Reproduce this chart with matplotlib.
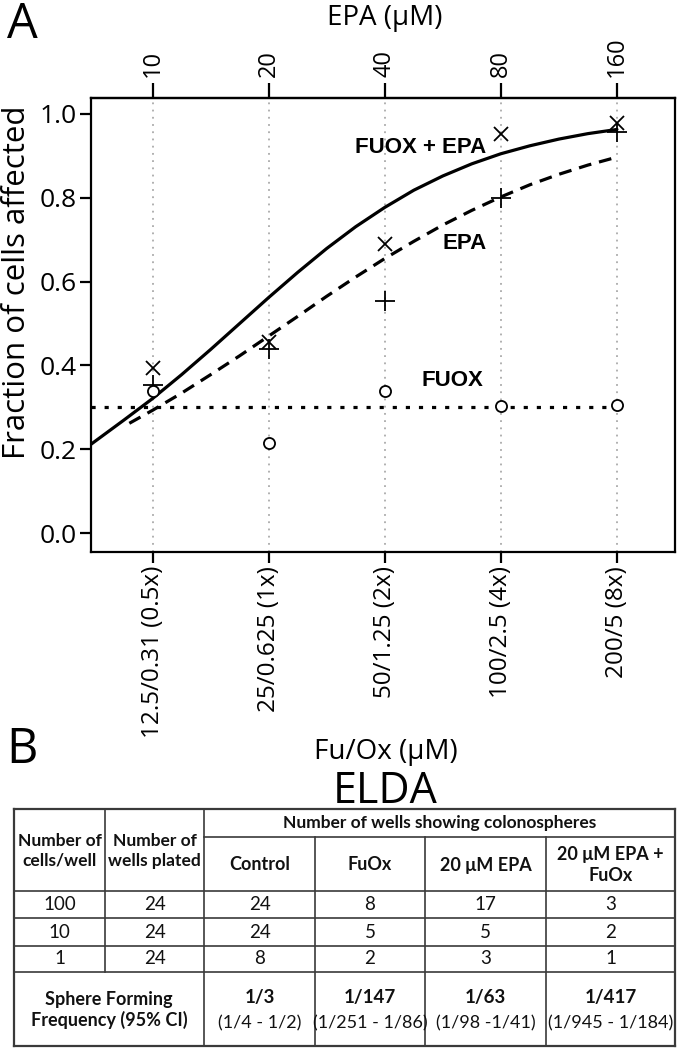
import matplotlib
matplotlib.use('Agg')
import matplotlib.pyplot as plt

# ---------------- data ----------------
epa_doses = ['10', '20', '40', '80', '160']
fuox_doses = ['12.5/0.31 (0.5x)', '25/0.625 (1x)', '50/1.25 (2x)', '100/2.5 (4x)', '200/5 (8x)']
dose_index = [0, 1, 2, 3, 4]

combo_points = [0.393, 0.456, 0.690, 0.952, 0.979]
epa_points = [0.353, 0.440, 0.553, 0.800, 0.957]
fuox_points = [0.340, 0.215, 0.340, 0.303, 0.305]
fuox_level = 0.30

combo_curve_x = [-0.53, -0.25, 0.0, 0.25, 0.5, 0.75, 1.0, 1.25, 1.5, 1.75, 2.0,
                 2.25, 2.5, 2.75, 3.0, 3.25, 3.5, 3.75, 4.0]
combo_curve_y = [0.212, 0.269, 0.321, 0.378, 0.438, 0.500, 0.562, 0.622, 0.679, 0.731, 0.777,
                 0.818, 0.852, 0.881, 0.905, 0.924, 0.940, 0.953, 0.963]
epa_curve_x = [-0.2, 0.0, 0.25, 0.5, 0.75, 1.0, 1.25, 1.5, 1.75, 2.0,
               2.25, 2.5, 2.75, 3.0, 3.25, 3.5, 3.75, 4.0]
epa_curve_y = [0.262, 0.293, 0.334, 0.378, 0.423, 0.470, 0.517, 0.565, 0.611, 0.655,
               0.696, 0.735, 0.770, 0.802, 0.831, 0.856, 0.878, 0.897]

# table data
cells_per_well = ['100', '10', '1']
wells_plated = ['24', '24', '24']
control_wells = ['24', '24', '8']
fuox_wells = ['8', '5', '2']
epa_wells = ['17', '5', '3']
combo_wells = ['3', '2', '1']
group_names = ['Control', 'FuOx', '20 μM EPA', '20 μM EPA +\nFuOx']
sff = ['1/3', '1/147', '1/63', '1/417']
sff_ci = ['(1/4 - 1/2)', '(1/251 - 1/86)', '(1/98 -1/41)', '(1/945 - 1/184)']

# ---------------- figure ----------------
W, H = 680, 1050
fig = plt.figure(figsize=(W / 100, H / 100), dpi=100)
FONT = ['Open Sans', 'DejaVu Sans']
TFONT = ['Lato', 'DejaVu Sans']

ax_l, ax_r, ax_t, ax_b = 91, 675, 98, 552
ax = fig.add_axes([ax_l / W, 1 - ax_b / H, (ax_r - ax_l) / W, (ax_b - ax_t) / H])
ax.set_xlim(-0.53, 4.5)
ax.set_ylim(-0.045, 1.038)

for xi in dose_index:
    ax.axvline(xi, color='#aaaaaa', lw=1.3, ls=(0, (1, 3)), zorder=0)

ax.plot(combo_curve_x, combo_curve_y, color='black', lw=2.3, solid_capstyle='round')
ax.plot(epa_curve_x, epa_curve_y, color='black', lw=2.3, ls=(0, (4, 2.5)))
ax.plot([-0.53, 4.0], [fuox_level, fuox_level], color='black', lw=2.3, ls=(0, (1.3, 2.8)))

ax.plot(dose_index, combo_points, ls='none', marker='x', ms=10.5, mew=1.3, color='black')
ax.plot(dose_index, epa_points, ls='none', marker='+', ms=14, mew=1.3, color='black')
ax.plot(dose_index, fuox_points, ls='none', marker='o', ms=8, mew=1.3,
        mfc='white', mec='black')

lab_kw = dict(fontsize=16, fontweight='bold', family=['Liberation Sans', 'DejaVu Sans'],
              ha='center', va='center')
ax.text(2.31, 0.921, 'FUOX + EPA', **lab_kw)
ax.text(2.69, 0.690, 'EPA', **lab_kw)
ax.text(2.58, 0.365, 'FUOX', **lab_kw)

for s in ax.spines.values():
    s.set_linewidth(1.6)

ax.set_yticks([0.0, 0.2, 0.4, 0.6, 0.8, 1.0])
ax.set_yticklabels(['0.0', '0.2', '0.4', '0.6', '0.8', '1.0'], family=FONT, fontsize=19)
ax.tick_params(axis='y', length=8, width=1.6, pad=2)

ax.set_xticks(dose_index)
ax.set_xticklabels(fuox_doses, rotation=90, family=FONT, fontsize=17.5)
ax.tick_params(axis='x', length=8, width=1.6, pad=2)

sec = ax.secondary_xaxis('top')
sec.set_xticks(dose_index)
sec.set_xticklabels(epa_doses, rotation=90, family=FONT, fontsize=17)
sec.tick_params(length=11, width=1.6, pad=4)
sec.spines['top'].set_linewidth(1.6)

fig.text(17 / W, 1 - 282 / H, 'Fraction of cells affected', rotation=90,
         ha='center', va='center', family=FONT, fontsize=22.5)
fig.text(385 / W, 1 - 18 / H, 'EPA (μM)', ha='center', va='center', family=FONT, fontsize=20)
fig.text(386 / W, 1 - 752 / H, 'Fu/Ox (μM)', ha='center', va='center', family=FONT, fontsize=20)
fig.text(22 / W, 1 - 25 / H, 'A', ha='center', va='center', family=FONT, fontsize=35)
fig.text(22 / W, 1 - 750 / H, 'B', ha='center', va='center', family=FONT, fontsize=35)
fig.text(385 / W, 1 - 792 / H, 'ELDA', ha='center', va='center', family=FONT, fontsize=31)

# ---------------- table ----------------
tb = fig.add_axes([0, 0, 1, 1])
tb.set_xlim(0, W)
tb.set_ylim(H, 0)
tb.axis('off')

cx = [14, 105, 204, 315, 425, 546, 675]
ry = [809, 837, 891, 918, 946, 972, 1046]
lc = '#3a3a3a'

def hline(y, x0, x1, lw=1.2):
    tb.plot([x0, x1], [y, y], color=lc, lw=lw, solid_capstyle='projecting')

def vline(x, y0, y1, lw=1.2):
    tb.plot([x, x], [y0, y1], color=lc, lw=lw, solid_capstyle='projecting')

# outer border
hline(ry[0], cx[0], cx[-1], 1.6)
hline(ry[-1], cx[0], cx[-1], 1.6)
vline(cx[0], ry[0], ry[-1], 1.6)
vline(cx[-1], ry[0], ry[-1], 1.6)
# inner lines
hline(ry[1], cx[2], cx[-1])
for y in ry[2:6]:
    hline(y, cx[0], cx[-1])
vline(cx[1], ry[0], ry[5])
vline(cx[2], ry[0], ry[-1])
for x in cx[3:6]:
    vline(x, ry[1], ry[-1])

tkw = dict(ha='center', va='center', family=TFONT, color='#111111', linespacing=1.25)

def mid(a, b):
    return (a + b) / 2

tb.text(mid(cx[0], cx[1]), 851, 'Number of\ncells/well', fontsize=12.5, fontweight='bold', **tkw)
tb.text(mid(cx[1], cx[2]), 851, 'Number of\nwells plated', fontsize=12.5, fontweight='bold', **tkw)
tb.text(mid(cx[2], cx[-1]), mid(ry[0], ry[1]), 'Number of wells showing colonospheres',
        fontsize=12.5, fontweight='bold', **tkw)
for i, name in enumerate(group_names):
    tb.text(mid(cx[2 + i], cx[3 + i]), mid(ry[1], ry[2]) + 1, name, fontsize=13,
            fontweight='bold', **tkw)

cols = [cells_per_well, wells_plated, control_wells, fuox_wells, epa_wells, combo_wells]
for r in range(3):
    for c, col in enumerate(cols):
        tb.text(mid(cx[c], cx[c + 1]), mid(ry[2 + r], ry[3 + r]), col[r], fontsize=13.5, **tkw)

tb.text(mid(cx[0], cx[2]), 1010, 'Sphere Forming\nFrequency (95% CI)', fontsize=13,
        fontweight='bold', **tkw)
for i in range(4):
    xm = mid(cx[2 + i], cx[3 + i])
    tb.text(xm, 998, sff[i], fontsize=13.5, fontweight='bold', **tkw)
    tb.text(xm, 1023, sff_ci[i], fontsize=13, **tkw)

fig.savefig('out.png', dpi=100)
